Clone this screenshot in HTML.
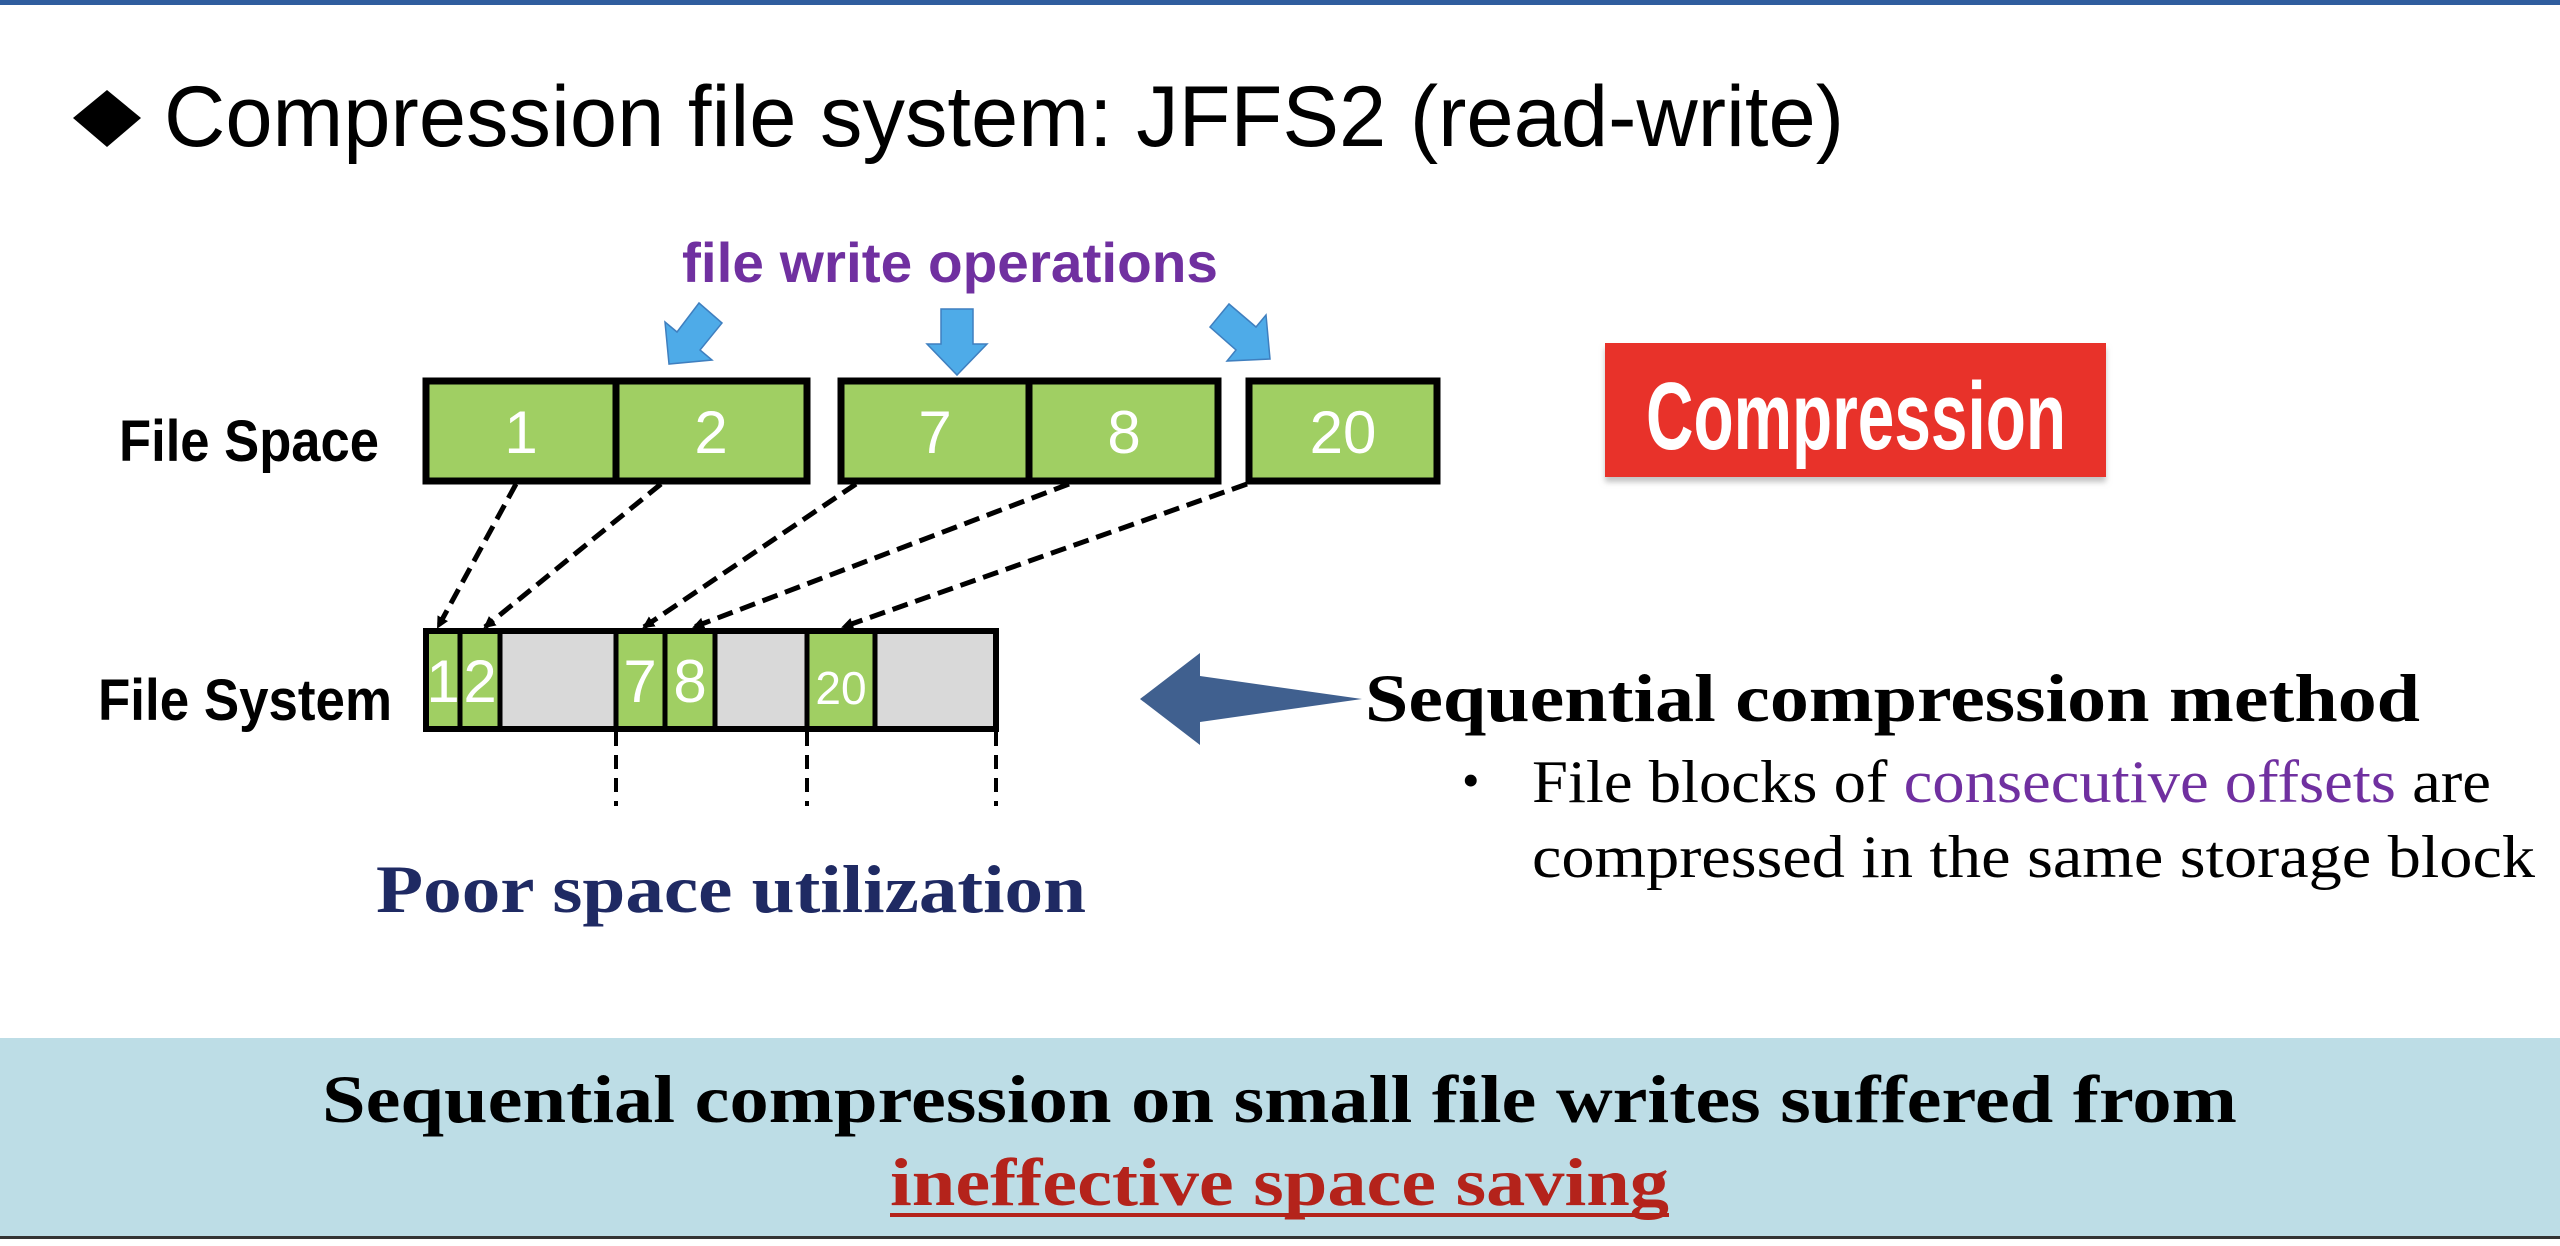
<!DOCTYPE html>
<html><head><meta charset="utf-8"><style>
html,body{margin:0;padding:0;background:#fff;}
svg{display:block;}
.cal{font-family:"Liberation Sans Narrow","Liberation Sans",sans-serif;}
.ser{font-family:"Liberation Serif",serif;}
</style></head><body>
<svg width="2560" height="1246" viewBox="0 0 2560 1246" xmlns="http://www.w3.org/2000/svg">
<rect x="0" y="0" width="2560" height="5" fill="#2f5d9e"/>
<!-- title -->
<polygon points="107,90 141,118 107,147 73,118" fill="#000"/>
<text x="164" y="146" font-family="Liberation Sans, sans-serif" font-size="86" fill="#000" textLength="1680" lengthAdjust="spacingAndGlyphs">Compression file system: JFFS2 (read-write)</text>
<!-- file write operations -->
<text x="682" y="282" class="cal" font-size="56" font-weight="bold" fill="#7030a0" textLength="536" lengthAdjust="spacingAndGlyphs">file write operations</text>
<g fill="#4eabe8" stroke="#3f7fbf" stroke-width="1.5">
<polygon points="669,364 665,322 677,332 699,303 722,323 700,350 712,360"/>
<polygon points="941,309 973,309 973,344 987,344 957,375 927,344 941,344"/>
<polygon points="1270,359 1266,315 1256,327 1229,304 1210,327 1236,350 1227,361"/>
</g>
<!-- file space -->
<text x="119" y="461" class="cal" font-size="58" font-weight="bold" fill="#000" textLength="260" lengthAdjust="spacingAndGlyphs">File Space</text>
<g fill="#a0cf63" stroke="#000" stroke-width="7">
<rect x="426" y="381" width="190" height="100"/>
<rect x="616" y="381" width="191" height="100"/>
<rect x="841" y="381" width="188" height="100"/>
<rect x="1029" y="381" width="189" height="100"/>
<rect x="1249" y="381" width="188" height="100"/>
</g>
<g class="cal" font-size="60" fill="#fff" text-anchor="middle">
<text x="521" y="453">1</text><text x="711" y="453">2</text>
<text x="935" y="453">7</text><text x="1124" y="453">8</text>
<text x="1343" y="453">20</text>
</g>
<!-- dashed arrows -->
<defs><marker id="ah" markerWidth="12" markerHeight="12" refX="10" refY="6" orient="auto" markerUnits="userSpaceOnUse"><path d="M0,0 L12,6 L0,12 z" fill="#000"/></marker>
<filter id="sh"><feDropShadow dx="0" dy="5" stdDeviation="3" flood-color="#999" flood-opacity="0.6"/></filter></defs>
<g stroke="#000" stroke-width="5" stroke-dasharray="16,8" fill="none" marker-end="url(#ah)">
<line x1="516" y1="484" x2="438" y2="627"/>
<line x1="661" y1="484" x2="485" y2="627"/>
<line x1="856" y1="484" x2="644" y2="627"/>
<line x1="1069" y1="484" x2="694" y2="627"/>
<line x1="1247" y1="484" x2="843" y2="627"/>
</g>
<!-- file system -->
<text x="98" y="720" class="cal" font-size="58" font-weight="bold" fill="#000" textLength="294" lengthAdjust="spacingAndGlyphs">File System</text>
<rect x="426" y="631" width="570" height="98" fill="#d9d9d9" stroke="#000" stroke-width="6"/>
<g fill="#a0cf63" stroke="#000" stroke-width="5">
<rect x="426" y="631" width="34" height="98"/><rect x="460" y="631" width="40" height="98"/>
<rect x="616" y="631" width="49" height="98"/><rect x="665" y="631" width="50" height="98"/>
<rect x="807" y="631" width="68" height="98"/>
</g>
<rect x="426" y="631" width="570" height="98" fill="none" stroke="#000" stroke-width="6"/>
<g class="cal" font-size="60" fill="#fff" text-anchor="middle">
<text x="443" y="702">1</text><text x="480" y="702">2</text>
<text x="640" y="702">7</text><text x="690" y="702">8</text>
</g>
<text x="841" y="704" class="cal" font-size="46" fill="#fff" text-anchor="middle">20</text>
<g stroke="#000" stroke-width="4" stroke-dasharray="14,9">
<line x1="616" y1="732" x2="616" y2="806"/><line x1="807" y1="732" x2="807" y2="806"/><line x1="996" y1="732" x2="996" y2="806"/>
</g>
<text x="376" y="912" class="ser" font-size="68" font-weight="bold" fill="#1f2a63" textLength="710" lengthAdjust="spacingAndGlyphs">Poor space utilization</text>
<!-- compression box -->
<rect x="1605" y="343" width="501" height="134" fill="#e8332a" filter="url(#sh)"/>
<text x="1856" y="449" font-family="Liberation Sans Narrow, Liberation Sans, sans-serif" font-size="96" font-weight="bold" fill="#fff" text-anchor="middle" textLength="420" lengthAdjust="spacingAndGlyphs">Compression</text>
<!-- big arrow -->
<polygon points="1140,699 1200,653 1200,676 1362,699 1200,722 1200,745" fill="#40608f"/>
<text x="1365" y="721" class="ser" font-size="68" font-weight="bold" fill="#000" textLength="1055" lengthAdjust="spacingAndGlyphs">Sequential compression method</text>
<text x="1462" y="797" class="ser" font-size="50" fill="#000">•</text>
<text x="1532" y="802" class="ser" font-size="60" fill="#000" textLength="959" lengthAdjust="spacingAndGlyphs">File blocks of <tspan fill="#7030a0">consecutive offsets</tspan> are</text>
<text x="1532" y="877" class="ser" font-size="60" fill="#000" textLength="1003" lengthAdjust="spacingAndGlyphs">compressed in the same storage block</text>
<!-- bottom band -->
<rect x="0" y="1038" width="2560" height="198" fill="#bddde6"/>
<rect x="0" y="1236" width="2560" height="3" fill="#333"/>
<text x="322" y="1122" class="ser" font-size="68" font-weight="bold" fill="#000" textLength="1915" lengthAdjust="spacingAndGlyphs">Sequential compression on small file writes suffered from</text>
<text x="890" y="1205" class="ser" font-size="68" font-weight="bold" fill="#b4231b" textLength="779" lengthAdjust="spacingAndGlyphs">ineffective space saving</text>
<rect x="890" y="1213" width="779" height="4" fill="#b4231b"/>
</svg>
</body></html>
